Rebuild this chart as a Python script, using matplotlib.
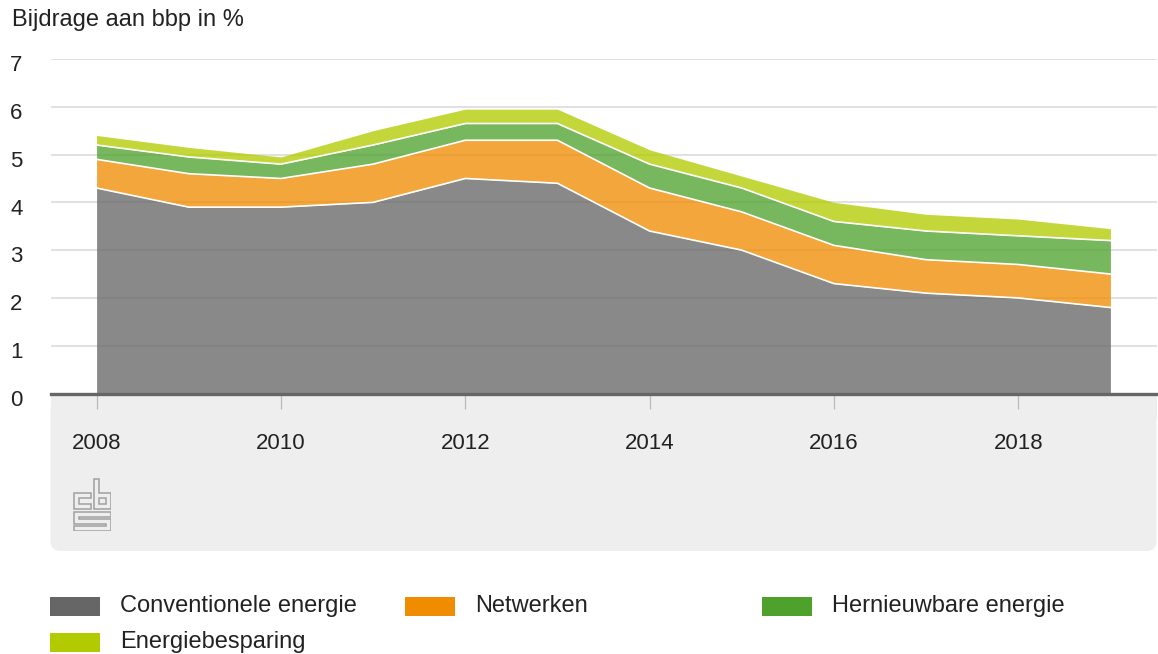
import numpy as np
import matplotlib
matplotlib.use("Agg")
import matplotlib.pyplot as plt
from matplotlib.patches import FancyBboxPatch, Rectangle, Polygon
from matplotlib.transforms import IdentityTransform, ScaledTranslation

plt.rcParams['font.family'] = ['Liberation Sans', 'DejaVu Sans']

years = [2008, 2009, 2010, 2011, 2012, 2013, 2014, 2015, 2016, 2017, 2018, 2019]
conventionele = [4.3, 3.9, 3.9, 4.0, 4.5, 4.4, 3.4, 3.0, 2.3, 2.1, 2.0, 1.8]
netwerken = [0.6, 0.7, 0.6, 0.8, 0.8, 0.9, 0.9, 0.8, 0.8, 0.7, 0.7, 0.7]
hernieuwbaar = [0.3, 0.35, 0.3, 0.4, 0.35, 0.35, 0.5, 0.5, 0.5, 0.6, 0.6, 0.7]
besparing = [0.2, 0.2, 0.15, 0.3, 0.3, 0.3, 0.3, 0.25, 0.4, 0.35, 0.35, 0.25]

labels = ["Conventionele energie", "Netwerken", "Hernieuwbare energie", "Energiebesparing"]
colors = ["#666666", "#f08c00", "#4ea22c", "#b1cb00"]
xtick_years = [2008, 2010, 2012, 2014, 2016, 2018]
yticks = [0, 1, 2, 3, 4, 5, 6, 7]
ylabel = "Bijdrage aan bbp in %"

W, H = 1158, 654
fig = plt.figure(figsize=(W / 100, H / 100), dpi=100)

def fx(px):
    return px / W

def fy(py):
    return 1 - py / H

# grey bottom panel
fig.add_artist(FancyBboxPatch((50.5, H - 551), 1106, 551 - 400,
                              boxstyle="round,pad=0,rounding_size=10",
                              transform=IdentityTransform(), fc="#eeeeee",
                              ec="none", zorder=-2))
fig.add_artist(Rectangle((50.5, H - 420), 1106, 26, transform=IdentityTransform(),
                         fc="#eeeeee", ec="none", zorder=-2))

ax = fig.add_axes([fx(50.5), fy(393.5), (1156.5 - 50.5) / W, (393.5 - 59) / H])
ax.set_facecolor("none")
ax.set_xlim(2007.5, 2019.5)
ax.set_ylim(0, 7)

series = [conventionele, netwerken, hernieuwbaar, besparing]
x = np.array(years)
bottom = np.zeros(len(years))
tops = []
for vals, c in zip(series, colors):
    top = bottom + np.array(vals)
    ax.fill_between(x, bottom, top, color=c, alpha=0.77, lw=0, zorder=2)
    tops.append(top)
    bottom = top
for top in tops[:-1]:
    ax.plot(x, top, color="white", lw=1.2, zorder=3, solid_joinstyle="miter")

ax.set_yticks(yticks)
ax.yaxis.grid(True, color="#d9d9d9", lw=1.1, zorder=0)
ax.set_axisbelow(True)
ax.tick_params(axis="y", length=0, pad=29, labelsize=16, labelcolor="#222222")
off = ScaledTranslation(0, -3 / 72, fig.dpi_scale_trans)
for lab in ax.get_yticklabels():
    lab.set_horizontalalignment("left")
    lab.set_transform(lab.get_transform() + off)

ax.set_xticks(xtick_years)
ax.set_xticklabels([str(y) for y in xtick_years])
ax.tick_params(axis="x", direction="out", length=10.5, width=0.9, color="#bbbbbb",
               pad=18, labelsize=16, labelcolor="#222222")

for s in ["left", "top", "right"]:
    ax.spines[s].set_visible(False)
ax.spines["bottom"].set_color("#666666")
ax.spines["bottom"].set_linewidth(2.4)
ax.spines["bottom"].set_zorder(4)

fig.text(fx(12), fy(20), ylabel, fontsize=17, color="#222222", va="center", ha="left")

# CBS logo (approximate outline drawing)
lax = fig.add_axes([fx(73), fy(531), 38 / W, 53 / H])
lax.set_xlim(-0.5, 37.5)
lax.set_ylim(52.5, -0.5)
lax.axis("off")
lc = "#a0a0a0"
shapes = [
    [(17, 14), (0, 14), (0, 30), (17, 30), (17, 25), (5, 25), (5, 19), (17, 19)],
    [(20, 0), (25, 0), (25, 14), (37, 14), (37, 30), (20, 30)],
    [(25, 19), (32, 19), (32, 25), (25, 25)],
    [(37, 33), (0, 33), (0, 45), (32, 45), (32, 47), (0, 47), (0, 52), (37, 52),
     (37, 40), (5, 40), (5, 38), (37, 38)],
]
for p in shapes:
    lax.add_patch(Polygon(p, closed=True, fill=False, ec=lc, lw=1.1, joinstyle="miter"))

# legend
legend_pos = [(50, 606), (405, 606), (762, 606), (50, 642)]
for (px, py), lab, c in zip(legend_pos, labels, colors):
    fig.add_artist(Rectangle((px, H - py - 9.5), 50, 19, transform=IdentityTransform(),
                             fc=c, ec="none"))
    fig.text(fx(px + 70), fy(py), lab, fontsize=17, color="#222222", va="center", ha="left")

fig.savefig("out.png", dpi=100)
